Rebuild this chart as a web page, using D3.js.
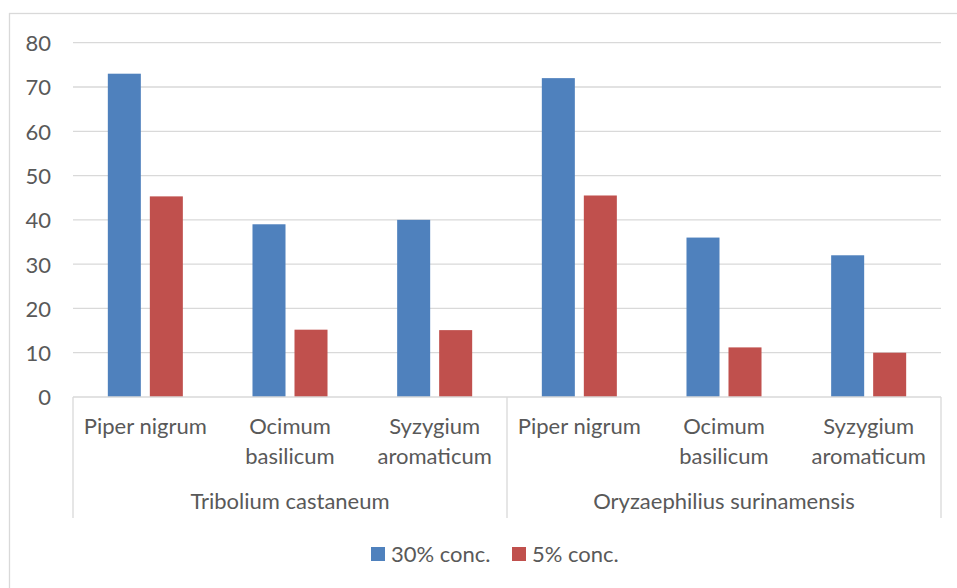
<!DOCTYPE html>
<html>
<head>
<meta charset="utf-8">
<script src="https://cdn.jsdelivr.net/npm/d3@7"></script>
<style>
  html, body { margin: 0; padding: 0; background: #fff; }
  svg { display: block; }
  text { font-family: Lato, "Open Sans", sans-serif; fill: #595959; }
</style>
</head>
<body>
<svg id="chart" width="957" height="588"></svg>
<script>
const groups = ["Tribolium castaneum", "Oryzaephilius surinamensis"];
const species = ["Piper nigrum", "Ocimum basilicum", "Syzygium aromaticum"];
const speciesLines = [["Piper nigrum"], ["Ocimum", "basilicum"], ["Syzygium", "aromaticum"]];
const seriesNames = ["30% conc.", "5% conc."];
const seriesColors = ["#4F81BD", "#C0504D"];
const values30 = [73, 39, 40, 72, 36, 32];
const values5 = [45.3, 15.2, 15.1, 45.5, 11.2, 10];
const yTicks = [0, 10, 20, 30, 40, 50, 60, 70, 80];

(function () {
const svg = d3.select("#chart");
const pLeft = 73, pRight = 941, pTop = 42.7, pBottom = 397;
const grid = "#d9d9d9";

svg.append("rect").attr("x", 9.5).attr("y", 13.5).attr("width", 1000).attr("height", 1000)
  .attr("fill", "none").attr("stroke", grid).attr("stroke-width", 1.3);

const y = d3.scaleLinear().domain([0, 80]).range([pBottom, pTop]);
const xGroup = d3.scaleBand().domain(groups).range([pLeft, pRight]);
const xSpecies = d3.scaleBand().domain(species).range([0, xGroup.bandwidth()]);
const xSeries = d3.scaleBand().domain(seriesNames).range([0, xSpecies.bandwidth()])
  .paddingInner(0.214).paddingOuter(0.829);

svg.append("g").selectAll("line").data(yTicks.filter(d => d > 0)).join("line")
  .attr("x1", pLeft).attr("x2", pRight)
  .attr("y1", d => y(d)).attr("y2", d => y(d))
  .attr("stroke", grid).attr("stroke-width", 1.3);

const yAxis = d3.axisLeft(y).tickValues(yTicks).tickSize(0).tickPadding(0);
const yg = svg.append("g").attr("transform", "translate(51,0)").call(yAxis);
yg.select(".domain").remove();
yg.selectAll("text").attr("font-size", "22px").attr("dy", "0.36em")
  .style("font-family", "Lato, sans-serif").attr("fill", "#595959");

const rows = [];
groups.forEach((g, gi) => species.forEach((s, si) => {
  const i = gi * species.length + si;
  rows.push({ g, s, si, v: [values30[i], values5[i]] });
}));
const barG = svg.append("g");
rows.forEach(r => {
  seriesNames.forEach((sn, k) => {
    barG.append("rect")
      .attr("x", xGroup(r.g) + xSpecies(r.s) + xSeries(sn))
      .attr("y", y(r.v[k]))
      .attr("width", xSeries.bandwidth())
      .attr("height", y(0) - y(r.v[k]))
      .attr("fill", seriesColors[k]);
  });
});

svg.append("line").attr("x1", pLeft).attr("x2", pRight).attr("y1", pBottom).attr("y2", pBottom)
  .attr("stroke", grid).attr("stroke-width", 1.3);
const seps = [pLeft, xGroup(groups[1]), pRight];
svg.append("g").selectAll("line").data(seps).join("line")
  .attr("x1", d => d).attr("x2", d => d).attr("y1", pBottom).attr("y2", 518)
  .attr("stroke", grid).attr("stroke-width", 1.3);

rows.forEach(r => {
  const cx = xGroup(r.g) + xSpecies(r.s) + xSpecies.bandwidth() / 2;
  speciesLines[r.si].forEach((ln, li) => {
    svg.append("text").attr("x", cx).attr("y", 434 + li * 29.5)
      .attr("text-anchor", "middle").attr("font-size", "22px").text(ln);
  });
});

groups.forEach(g => {
  svg.append("text").attr("x", xGroup(g) + xGroup.bandwidth() / 2).attr("y", 509)
    .attr("text-anchor", "middle").attr("font-size", "22px").text(g);
});

const legendX = [371, 512];
seriesNames.forEach((sn, k) => {
  svg.append("rect").attr("x", legendX[k]).attr("y", 547).attr("width", 14).attr("height", 14)
    .attr("fill", seriesColors[k]);
  svg.append("text").attr("x", legendX[k] + 20).attr("y", 562)
    .attr("font-size", "22px").text(sn);
});
})();
</script>
</body>
</html>
